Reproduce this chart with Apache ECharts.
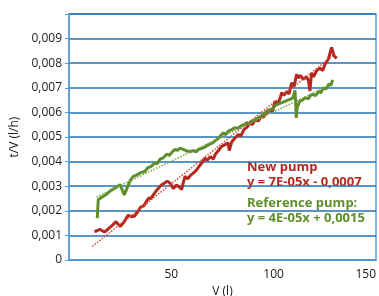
<!DOCTYPE html>
<html>
<head>
<meta charset="utf-8">
<script src="https://cdn.jsdelivr.net/npm/echarts@6/dist/echarts.min.js"></script>
<style>
  html, body { margin: 0; padding: 0; background: #fff; }
  #chart { width: 379px; height: 296px; }
</style>
</head>
<body>
<div id="chart"></div>
<script>
  // volume V (l) and t/V (l/h)
  var newPumpV = [12.4, 13.5, 15, 16, 17.3, 19, 21, 23, 24, 25, 26.5, 28, 29, 30.5, 32, 33.5, 35, 36.5, 38, 39,
    40, 41.2, 42.5, 44, 45.3, 46.5, 48, 49, 50, 51, 51.8, 52.5, 53.4, 54.2, 55, 56, 56.7, 58, 59.5, 61,
    62.4, 63.5, 65, 66.4, 67.5, 69, 70.5, 71.5, 73, 74.6, 75.5, 76.5, 77.8, 78.3, 79.5, 81, 82.7, 84, 85.5, 87,
    88.4, 89.5, 91, 92.5, 94, 95, 96.5, 98, 99.5, 100.6, 101.5, 103, 103.9, 105, 106.5, 107.5, 108.8, 110, 111.2, 112,
    113, 114.5, 116, 117, 117.7, 118.5, 119.5, 121, 122.6, 124, 125, 126.7, 127.5, 128.3, 129.5, 130.8];
  var newPumpTV = [1.16, 1.18, 1.25, 1.2, 1.14, 1.25, 1.4, 1.56, 1.45, 1.36, 1.5, 1.7, 1.82, 1.76, 1.78, 1.95, 2.15, 2.2, 2.4, 2.52,
    2.5, 2.65, 2.8, 2.95, 3.06, 3.12, 3.2, 3.15, 3.05, 2.9, 2.86, 3.05, 3.13, 2.95, 2.86, 3.2, 3.4, 3.3, 3.45, 3.55,
    3.67, 3.8, 3.95, 4.15, 4.05, 4.2, 4.1, 4.3, 4.45, 4.62, 4.55, 4.7, 4.76, 4.45, 4.8, 4.95, 5.1, 5.05, 5.3, 5.4,
    5.58, 5.5, 5.7, 5.65, 5.85, 5.8, 6.0, 6.1, 6.05, 6.46, 6.3, 6.53, 6.8, 6.7, 6.85, 6.75, 7.2, 7.05, 7.55, 7.4,
    7.5, 7.35, 7.45, 7.3, 6.87, 7.6, 7.45, 7.7, 7.8, 7.7, 7.95, 8.16, 8.1, 8.64, 8.3, 8.2];

  var refPumpV = [13.8, 14.3, 16, 18, 20, 22, 24.9, 26, 27, 28.5, 30, 31.4, 33, 35, 37.1, 38.5, 40, 42, 43, 44.5,
    46, 47.7, 49, 50.5, 51.8, 53, 54.2, 55.8, 57, 59, 60.5, 62, 63.5, 65.6, 67, 68.5, 70, 71.5, 73, 75.4,
    76.5, 78, 79.5, 81, 82.5, 84, 85.5, 86.8, 88, 89.5, 91, 92.5, 94, 95.5, 96.6, 98, 99.5, 101, 102.5, 104,
    105.5, 107, 108.5, 109.5, 110.4, 110.8, 111, 111.5, 112.8, 114, 115.5, 117, 118, 119.3, 120.5, 122, 123, 124.2, 125.5, 127,
    128, 128.8];
  var refPumpTV = [1.7, 2.45, 2.55, 2.65, 2.8, 2.9, 3.06, 2.85, 2.65, 2.95, 3.25, 3.4, 3.45, 3.55, 3.6, 3.75, 3.8, 3.95, 3.9, 4.1,
    4.15, 4.3, 4.25, 4.4, 4.5, 4.45, 4.55, 4.5, 4.45, 4.4, 4.45, 4.4, 4.5, 4.56, 4.62, 4.7, 4.75, 4.85, 4.95, 5.17,
    5.1, 5.25, 5.3, 5.38, 5.35, 5.45, 5.5, 5.58, 5.55, 5.65, 5.7, 5.78, 5.85, 5.95, 6.05, 6.1, 6.15, 6.3, 6.35, 6.4,
    6.45, 6.5, 6.55, 6.6, 6.9, 6.3, 5.78, 6.2, 6.46, 6.5, 6.6, 6.55, 6.7, 6.73, 6.68, 6.85, 6.8, 7.0, 6.95, 7.15,
    7.1, 7.32];

  // trendline ends as drawn
  var newTrendV = [11.4, 130];
  var newTrendTV = [0.55, 8.38];
  var refTrendV = [13.5, 128.8];
  var refTrendTV = [2.56, 7.17];

  var yTicks = [0, 0.001, 0.002, 0.003, 0.004, 0.005, 0.006, 0.007, 0.008, 0.009, 0.01];
  var xTicks = [0, 50, 100, 150];

  var labels = [
    ['New pump', '#b5281f', 161],
    ['y = 7E-05x - 0,0007', '#b5281f', 176],
    ['Reference pump:', '#5e8e2b', 197],
    ['y = 4E-05x + 0,0015', '#5e8e2b', 212]
  ];

  function pairs(xs, ys) {
    return xs.map(function (x, i) { return [x, ys[i] / 1000]; });
  }

  var blue = '#2372b3';
  var chart = echarts.init(document.getElementById('chart'));
  chart.setOption({
    animation: false,
    textStyle: { fontFamily: 'Open Sans' },
    grid: { left: 69, right: 3, top: 14, bottom: 36, outerBoundsMode: 'none', containLabel: false,
      show: true, borderColor: '#5b9bd0', borderWidth: 1.5 },
    xAxis: {
      type: 'value', min: xTicks[0], max: xTicks[xTicks.length - 1], interval: 50,
      name: 'V (l)', nameLocation: 'middle', nameGap: 22,
      nameTextStyle: { fontSize: 12, color: '#1a1a1a' },
      axisLine: { lineStyle: { color: '#5b9bd0', width: 1.5 } },
      axisTick: { show: false },
      splitLine: { show: false },
      axisLabel: {
        color: '#1a1a1a', fontSize: 12, margin: 9, alignMaxLabel: 'right',
        formatter: function (v) { return v === 0 ? '' : String(v); }
      }
    },
    yAxis: {
      type: 'value', min: yTicks[0], max: yTicks[yTicks.length - 1], interval: 0.001,
      name: 't/V (l/h)', nameLocation: 'middle', nameGap: 46, nameRotate: 90,
      nameTextStyle: { fontSize: 12, color: '#1a1a1a' },
      axisLine: { show: true, lineStyle: { color: '#5b9bd0', width: 1.5 } },
      axisTick: { show: true, length: 4, lineStyle: { color: '#5b9bd0' } },
      splitLine: { lineStyle: { color: blue, width: 1.5 } },
      axisLabel: {
        color: '#1a1a1a', fontSize: 12, margin: 7,
        formatter: function (v) {
          if (v === 0) return '0';
          if (v > 0.0095) return '';
          return v.toFixed(3).replace('.', ',');
        }
      }
    },
    series: [
      { type: 'line', data: pairs(newPumpV, newPumpTV), symbol: 'none',
        lineStyle: { color: '#b5281f', width: 3 } },
      { type: 'line', data: pairs(refPumpV, refPumpTV), symbol: 'none',
        lineStyle: { color: '#5e8e2b', width: 3 } },
      { type: 'line', data: pairs(newTrendV, newTrendTV), symbol: 'none',
        lineStyle: { color: '#d6473a', width: 1.5, type: 'dotted' } },
      { type: 'line', data: pairs(refTrendV, refTrendTV), symbol: 'none',
        lineStyle: { color: '#78a444', width: 1.5, type: 'dotted' } }
    ],
    graphic: labels.map(function (l) {
      return {
        type: 'text', left: 247, top: l[2],
        style: { text: l[0], fill: l[1], font: 'bold 13px "Open Sans"' }
      };
    })
  });
</script>
</body>
</html>
